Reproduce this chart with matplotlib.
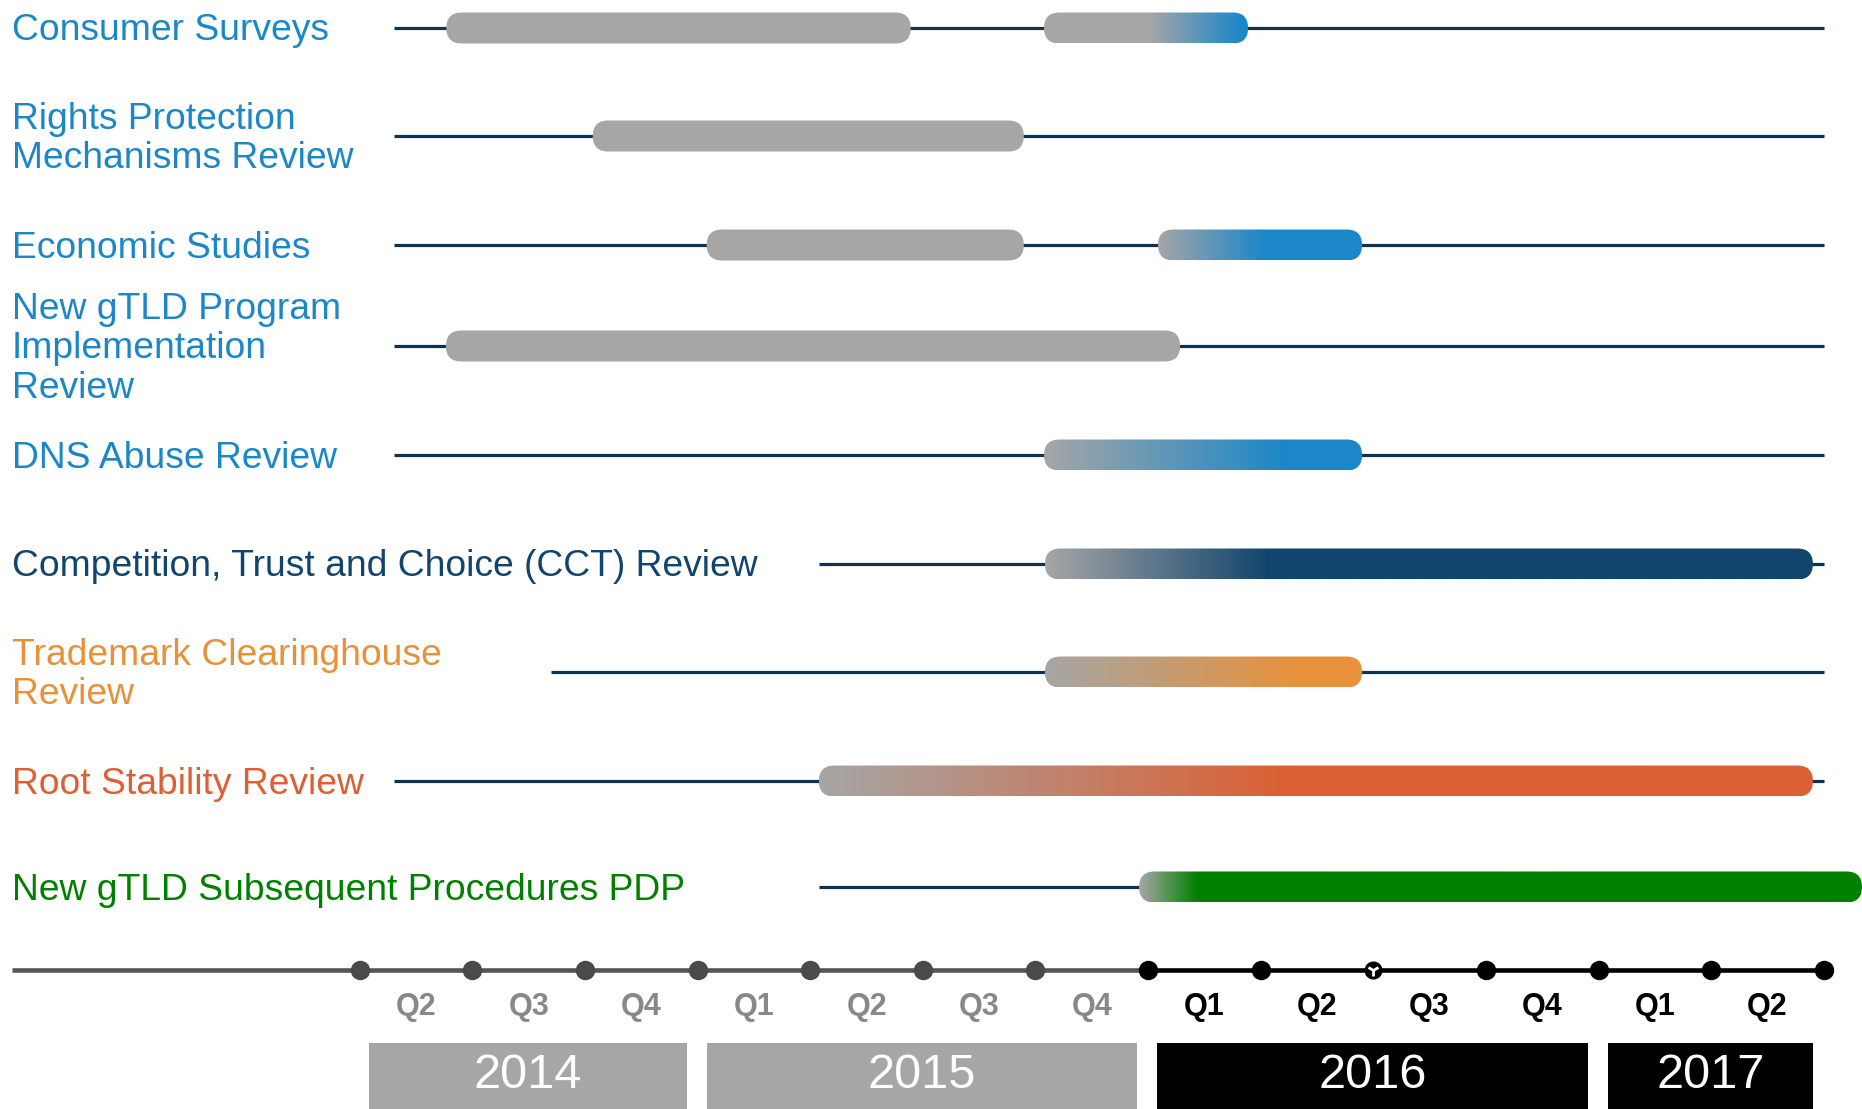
import numpy as np
import matplotlib
matplotlib.use("Agg")
import matplotlib.pyplot as plt
import matplotlib.transforms as mtransforms
from matplotlib.patches import FancyBboxPatch, Rectangle
from matplotlib.colors import to_rgb

plt.rcParams['font.family'] = ['Liberation Sans', 'DejaVu Sans']

# ---------------- data ----------------
labels = [
    "Consumer Surveys",
    "Rights Protection\nMechanisms Review",
    "Economic Studies",
    "New gTLD Program\nImplementation\nReview",
    "DNS Abuse Review",
    "Competition, Trust and Choice (CCT) Review",
    "Trademark Clearinghouse\nReview",
    "Root Stability Review",
    "New gTLD Subsequent Procedures PDP",
]
label_colors = ["#1b87c9", "#1b87c9", "#1b87c9", "#1b87c9", "#1b87c9",
                "#11456d", "#e8913a", "#dc6033", "#008000"]
line_start = [2014.325, 2014.325, 2014.325, 2014.325, 2014.325,
              2015.269, 2014.674, 2014.325, 2015.269]
line_end = 2017.5

# bars (decimal years); fade = gray -> colour transition
bar_row = [0, 0, 1, 2, 2, 3, 4, 5, 6, 7, 8]
bar_start = [2014.442, 2015.769, 2014.767, 2015.020, 2016.022, 2014.441,
             2015.769, 2015.771, 2015.771, 2015.269, 2015.980]
bar_end = [2015.473, 2016.222, 2015.724, 2015.724, 2016.475, 2016.071,
           2016.475, 2017.476, 2016.475, 2017.476, 2017.585]
fade_from = [None, 2016.000, None, None, 2016.022, None,
             2015.769, 2015.771, 2015.771, 2015.269, 2015.980]
fade_to = [None, 2016.208, None, None, 2016.257, None,
           2016.308, 2016.268, 2016.337, 2016.315, 2016.108]

quarter_starts = [2014.25 + 0.25 * k for k in range(14)]
quarter_labels = ["Q2", "Q3", "Q4", "Q1", "Q2", "Q3", "Q4",
                  "Q1", "Q2", "Q3", "Q4", "Q1", "Q2"]
years = ["2014", "2015", "2016", "2017"]
year_start = [2014.25, 2015.0, 2016.0, 2017.0]
year_end = [2015.0, 2016.0, 2017.0, 2017.5]
today_marker = 2016.5
past_end = 2016.0

# ---------------- layout ----------------
W, H = 1862, 1109
X0, X1 = 2013.451, 2017.585
row_y = [28, 136, 245, 346, 455, 564, 672, 781, 887]
label_dy = 3
axis_y = 970
qlabel_y = 1007
ybox_top = 1043
year_text_y = 1076
bar_h = 31
GRAY = "#a6a6a6"
LINE = "#0d3350"

fig = plt.figure(figsize=(W / 100, H / 100), dpi=100)
ax = fig.add_axes([0, 0, 1, 1])
ax.set_xlim(X0, X1)
ax.set_ylim(H, 0)
ax.axis("off")

px_per_year = W / (X1 - X0)
radius_years = (bar_h / 2) / px_per_year
text_tr = mtransforms.blended_transform_factory(ax.transAxes, ax.transData)

# labels and row lines
for i, lab in enumerate(labels):
    ax.text(12 / W, row_y[i] + label_dy, lab, transform=text_tr, ha="left", va="center",
            fontsize=26.8, color=label_colors[i], linespacing=1.18)
    ax.plot([line_start[i], line_end], [row_y[i], row_y[i]], color=LINE,
            lw=2.3, solid_capstyle="butt", zorder=2)

# bars
for j in range(len(bar_row)):
    yc = row_y[bar_row[j]]
    x0, x1 = bar_start[j], bar_end[j]
    patch = FancyBboxPatch((x0, yc - bar_h / 2), x1 - x0, bar_h,
                           boxstyle=f"round,pad=0,rounding_size={radius_years}",
                           mutation_aspect=px_per_year,
                           facecolor=GRAY if fade_from[j] is None else "none",
                           edgecolor="none", zorder=3)
    ax.add_patch(patch)
    if fade_from[j] is not None:
        col = np.array(to_rgb(label_colors[bar_row[j]]))
        g = np.array(to_rgb(GRAY))
        xs = np.linspace(x0, x1, 600)
        t = np.clip((xs - fade_from[j]) / (fade_to[j] - fade_from[j]), 0, 1)
        img = g[None, :] * (1 - t[:, None]) + col[None, :] * t[:, None]
        im = ax.imshow(img[None, :, :], extent=[x0, x1, yc + bar_h / 2, yc - bar_h / 2],
                       aspect="auto", interpolation="bilinear", zorder=4)
        im.set_clip_path(patch)

# timeline axis
ax.plot([2013.477, past_end], [axis_y, axis_y], color="#555555", lw=3.3,
        solid_capstyle="butt", zorder=2)
ax.plot([past_end, quarter_starts[-1]], [axis_y, axis_y], color="black", lw=3.3,
        solid_capstyle="butt", zorder=2)
for q in quarter_starts:
    if abs(q - today_marker) < 1e-6:
        ax.plot(q, axis_y, "o", color="black", ms=12, zorder=5)
        ax.plot(q, axis_y, marker="1", color="white", ms=9, mew=2, zorder=6)
    else:
        ax.plot(q, axis_y, "o", color="#4a4a4a" if q < past_end else "black",
                ms=14, mew=0, zorder=5)
for k, ql in enumerate(quarter_labels):
    mid = (quarter_starts[k] + quarter_starts[k + 1]) / 2
    ax.text(mid, qlabel_y, ql, ha="center", va="center", fontsize=22,
            fontweight="bold", color="#888888" if mid < past_end else "black")

# year boxes
for k, yr in enumerate(years):
    a, b = year_start[k] + 0.02, year_end[k] - 0.024
    fc = GRAY if year_end[k] <= past_end else "black"
    ax.add_patch(Rectangle((a, ybox_top), b - a, H - ybox_top + 5, facecolor=fc,
                           edgecolor="none", zorder=2))
    ax.text((a + b) / 2, year_text_y, yr, ha="center", va="center",
            fontsize=35, color="white", zorder=3)

fig.savefig("out.png", dpi=100)
